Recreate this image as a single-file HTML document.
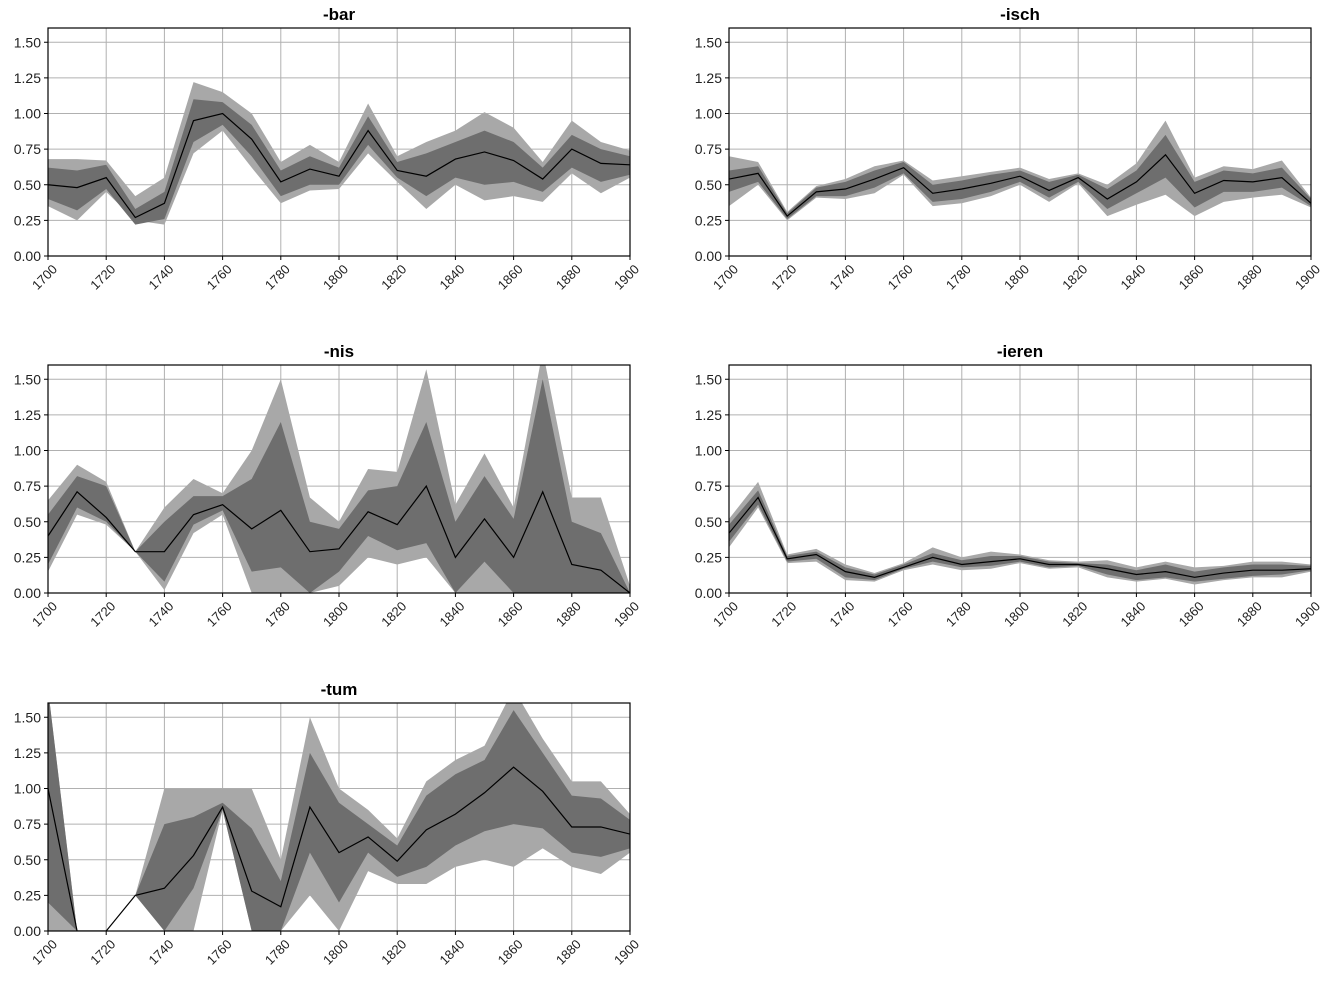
<!DOCTYPE html>
<html><head><meta charset="utf-8"><style>
body{margin:0;background:#fff;}
svg{display:block;font-family:"Liberation Sans","DejaVu Sans",sans-serif;}
</style></head><body>
<svg id="fig" width="1330" height="983" viewBox="0 0 1330 983"></svg>
<script>
const years=[1700,1710,1720,1730,1740,1750,1760,1770,1780,1790,1800,1810,1820,1830,1840,1850,1860,1870,1880,1890,1900];
const xTicks=[1700,1720,1740,1760,1780,1800,1820,1840,1860,1880,1900];
const yTicks=[0,0.25,0.5,0.75,1.0,1.25,1.5];
const yTickLabels=["0.00","0.25","0.50","0.75","1.00","1.25","1.50"];
const titles=["-bar","-isch","-nis","-ieren","-tum"];
const barMean=[.5,.48,.55,.27,.37,.95,1.0,.82,.52,.61,.56,.88,.6,.56,.68,.73,.67,.54,.75,.65,.64];
const barInHi=[.62,.6,.64,.33,.45,1.1,1.08,.92,.6,.7,.62,.98,.66,.72,.8,.88,.8,.62,.85,.75,.7];
const barInLo=[.4,.32,.47,.22,.26,.8,.92,.7,.42,.5,.5,.78,.55,.42,.55,.5,.52,.45,.62,.52,.57];
const barOutHi=[.68,.68,.67,.42,.55,1.22,1.15,1.0,.66,.78,.66,1.07,.7,.8,.88,1.01,.9,.66,.95,.8,.74];
const barOutLo=[.35,.25,.45,.25,.22,.72,.88,.62,.37,.46,.47,.72,.52,.33,.5,.39,.42,.38,.58,.44,.55];
const ischMean=[.54,.58,.28,.45,.47,.54,.62,.44,.47,.51,.56,.46,.55,.4,.52,.71,.44,.53,.52,.55,.37];
const ischInHi=[.6,.63,.3,.48,.52,.6,.66,.5,.53,.57,.6,.52,.57,.47,.6,.85,.52,.6,.58,.62,.4];
const ischInLo=[.45,.52,.26,.42,.42,.48,.58,.38,.4,.45,.52,.41,.52,.33,.44,.55,.34,.45,.45,.48,.35];
const ischOutHi=[.7,.66,.31,.49,.54,.63,.67,.53,.56,.59,.62,.54,.58,.5,.65,.95,.55,.63,.61,.67,.41];
const ischOutLo=[.35,.5,.25,.41,.4,.44,.57,.35,.37,.42,.5,.38,.51,.28,.36,.43,.28,.38,.41,.43,.34];
const nisMean=[.4,.71,.53,.29,.29,.55,.62,.45,.58,.29,.31,.57,.48,.75,.25,.52,.25,.71,.2,.16,0];
const nisInHi=[.55,.82,.75,.29,.5,.68,.68,.8,1.2,.5,.45,.72,.75,1.2,.5,.82,.52,1.5,.5,.42,0];
const nisInLo=[.2,.6,.5,.29,.08,.48,.58,.15,.18,0,.15,.4,.3,.35,0,.22,0,0,0,0,0];
const nisOutHi=[.65,.9,.78,.29,.6,.8,.7,1.0,1.5,.67,.5,.87,.85,1.57,.62,.98,.6,1.7,.67,.67,.05];
const nisOutLo=[.15,.55,.48,.29,.02,.42,.55,0,0,0,.05,.25,.2,.25,0,0,0,0,0,0,0];
const ierenMean=[.42,.67,.24,.27,.15,.11,.18,.25,.2,.22,.24,.2,.2,.17,.13,.15,.11,.14,.16,.16,.17];
const ierenInHi=[.48,.72,.26,.29,.18,.13,.2,.28,.23,.26,.26,.22,.21,.2,.16,.2,.15,.18,.2,.2,.19];
const ierenInLo=[.36,.62,.22,.24,.11,.09,.17,.22,.18,.19,.22,.18,.19,.13,.09,.11,.08,.1,.12,.13,.16];
const ierenOutHi=[.52,.78,.27,.31,.2,.14,.21,.32,.25,.29,.27,.23,.22,.23,.18,.22,.18,.19,.22,.22,.2];
const ierenOutLo=[.32,.6,.21,.22,.09,.08,.16,.2,.16,.17,.21,.17,.18,.11,.08,.1,.06,.09,.11,.11,.15];
const tumMean=[1.0,0,0,.25,.3,.53,.87,.28,.17,.87,.55,.66,.49,.71,.82,.97,1.15,.98,.73,.73,.68];
const tumInHi=[1.7,0,0,.25,.75,.8,.9,.72,.35,1.25,.9,.75,.6,.95,1.1,1.2,1.55,1.25,.95,.93,.78];
const tumInLo=[.2,0,0,.25,0,.3,.85,0,0,.55,.2,.55,.38,.45,.6,.7,.75,.72,.55,.52,.58];
const tumOutHi=[1.7,0,0,.25,1.0,1.0,1.0,1.0,.5,1.5,1.0,.85,.65,1.05,1.2,1.3,1.7,1.35,1.05,1.05,.82];
const tumOutLo=[0,0,0,.25,0,0,.85,0,0,.25,0,.42,.33,.33,.45,.5,.45,.58,.45,.4,.55];

const NS="http://www.w3.org/2000/svg";
const svg=document.getElementById('fig');
function mk(tag,attrs,parent){const e=document.createElementNS(NS,tag);for(const k in attrs)e.setAttribute(k,attrs[k]);(parent||svg).appendChild(e);return e;}
const panels=[
 {x0:48,x1:630,top:28,bot:256,d:[barMean,barInHi,barInLo,barOutHi,barOutLo]},
 {x0:729,x1:1311,top:28,bot:256,d:[ischMean,ischInHi,ischInLo,ischOutHi,ischOutLo]},
 {x0:48,x1:630,top:365,bot:593,d:[nisMean,nisInHi,nisInLo,nisOutHi,nisOutLo]},
 {x0:729,x1:1311,top:365,bot:593,d:[ierenMean,ierenInHi,ierenInLo,ierenOutHi,ierenOutLo]},
 {x0:48,x1:630,top:703,bot:931,d:[tumMean,tumInHi,tumInLo,tumOutHi,tumOutLo]}
];
const YMAX=1.6;
panels.forEach((p,i)=>{
 const g=mk('g',{});
 
 
 const sx=v=>p.x0+(v-1700)/200*(p.x1-p.x0);
 const sy=v=>p.bot-v/YMAX*(p.bot-p.top);
 const cid='clip'+i;
 const cp=mk('clipPath',{id:cid},g);
 mk('rect',{x:p.x0,y:p.top,width:p.x1-p.x0,height:p.bot-p.top},cp);
 xTicks.forEach(t=>{const l=mk('line',{x1:sx(t),x2:sx(t),y1:p.top,y2:p.bot,stroke:'#b0b0b0','stroke-width':1},g);
  });
 yTicks.forEach(t=>{const l=mk('line',{x1:p.x0,x2:p.x1,y1:sy(t),y2:sy(t),stroke:'#b0b0b0','stroke-width':1},g);
  });
 const band=(hi,lo,col,name)=>{
  let pts=years.map((y,k)=>sx(y)+','+sy(hi[k]));
  pts=pts.concat(years.slice().reverse().map((y,k)=>sx(y)+','+sy(lo[years.length-1-k])));
  const e=mk('polygon',{points:pts.join(' '),fill:col,'clip-path':'url(#'+cid+')'},g);
  
 };
 band(p.d[3],p.d[4],'#a8a8a8','outer-band');
 band(p.d[1],p.d[2],'#6e6e6e','inner-band');
 const ln=mk('polyline',{points:years.map((y,k)=>sx(y)+','+sy(p.d[0][k])).join(' '),fill:'none',stroke:'#000','stroke-width':1.2,'clip-path':'url(#'+cid+')'},g);
 
 const fr=mk('rect',{x:p.x0,y:p.top,width:p.x1-p.x0,height:p.bot-p.top,fill:'none',stroke:'#000','stroke-width':1.2},g);
 
 yTicks.forEach((t,k)=>{
  mk('line',{x1:p.x0-4,x2:p.x0,y1:sy(t),y2:sy(t),stroke:'#000'},g);
  const tx=mk('text',{x:p.x0-7,y:sy(t)+5,'text-anchor':'end','font-size':14,fill:'#222'},g);
  tx.textContent=yTickLabels[k];
  
 });
 xTicks.forEach(t=>{
  mk('line',{x1:sx(t),x2:sx(t),y1:p.bot,y2:p.bot+4,stroke:'#000'},g);
  const x=sx(t)+10,y=p.bot+14;
  const tx=mk('text',{x:x,y:y,'text-anchor':'end','font-size':13,fill:'#222',transform:'rotate(-45 '+x+' '+y+')'},g);
  tx.textContent=t;
  
 });
 const ti=mk('text',{x:(p.x0+p.x1)/2,y:p.top-8,'text-anchor':'middle','font-size':17,'font-weight':'bold',fill:'#000'},g);
 ti.textContent=titles[i];
 
});
</script>
</body></html>
